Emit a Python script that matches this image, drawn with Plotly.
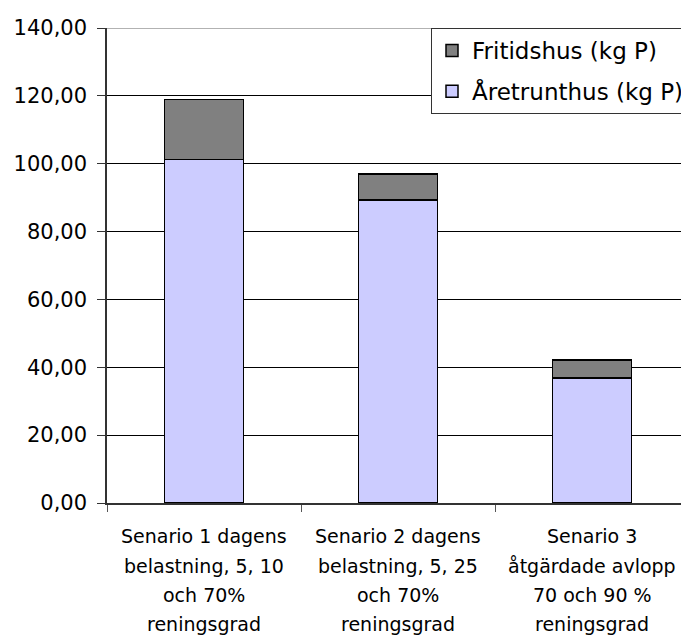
import plotly.graph_objects as go

categories = ["Senario 1", "Senario 2", "Senario 3"]
category_lines = [
    ["Senario 1 dagens", "belastning, 5, 10", "och 70%", "reningsgrad"],
    ["Senario 2 dagens", "belastning, 5, 25", "och 70%", "reningsgrad"],
    ["Senario 3", "åtgärdade avlopp", "70 och 90 %", "reningsgrad"],
]
aretrunt = [101.2, 89.3, 36.8]
fritid = [17.8, 7.7, 5.3]
y_ticks = [0, 20, 40, 60, 80, 100, 120, 140]

FONT = "DejaVu Sans, Arial, sans-serif"

fig = go.Figure()
fig.add_trace(go.Bar(x=categories, y=aretrunt, name="Åretrunthus (kg P)",
                     legendgroup="a", legendrank=2,
                     marker=dict(color="#CCCCFF", line=dict(color="black", width=1.5))))
fig.add_trace(go.Bar(x=categories, y=fritid, name="Fritidshus (kg P)",
                     legendgroup="b", legendrank=1,
                     marker=dict(color="#808080", line=dict(color="black", width=1.5))))

# page body has an 8px margin, so the figure is offset by 8px
fig.update_layout(
    width=681, height=627,
    barmode="stack", bargap=0.595,
    separators=", ",
    paper_bgcolor="white", plot_bgcolor="white",
    margin=dict(l=99, r=0, t=20, b=132, autoexpand=False),
    font=dict(family=FONT, color="black", size=19),
    legend=dict(x=1.0, y=1.0, xanchor="right", yanchor="top",
                traceorder="grouped", tracegroupgap=8,
                bordercolor="#333333", borderwidth=1,
                bgcolor="white", font=dict(size=23, family=FONT),
                itemwidth=30),
    showlegend=True,
)
fig.update_yaxes(range=[0, 140], tickvals=y_ticks, tickformat=".2f",
                 showgrid=True, gridcolor="black", gridwidth=1,
                 showline=True, linecolor="#333333", linewidth=1.5,
                 ticks="outside", ticklen=8, tickcolor="#333333",
                 ticklabelstandoff=6,
                 tickfont=dict(size=21, family=FONT), zeroline=False,
                 automargin=False)
fig.update_xaxes(tickson="boundaries", ticks="outside", ticklen=7,
                 tickcolor="#555555", showline=True, linecolor="#333333",
                 linewidth=1.5, showticklabels=False, showgrid=False,
                 automargin=False)
# top border line of plot area
fig.add_shape(type="line", xref="paper", yref="y", x0=0, x1=1, y0=140, y1=140,
              line=dict(color="#999999", width=1.5))

offsets = [33, 62.5, 92, 121]
for cat, lines in zip(categories, category_lines):
    for off, txt in zip(offsets, lines):
        fig.add_annotation(x=cat, xref="x", y=0, yref="paper",
                           text=txt, showarrow=False,
                           yanchor="middle", xanchor="center",
                           yshift=-off,
                           font=dict(size=19, family=FONT, color="black"))

fig.write_html("out.html")
